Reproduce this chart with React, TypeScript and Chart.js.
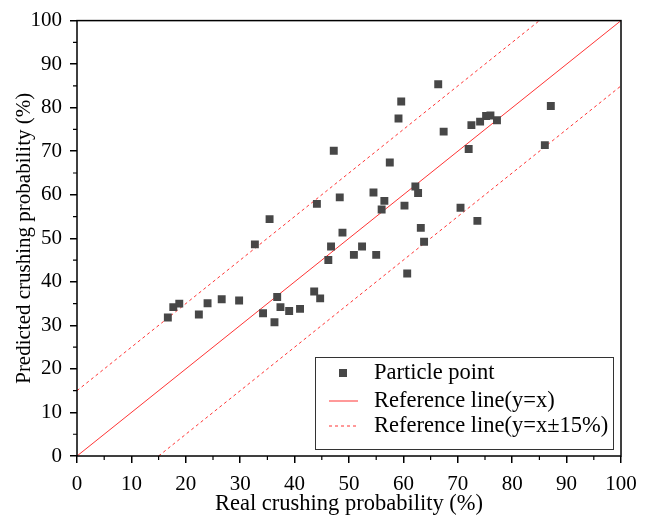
import React, { useEffect, useRef } from "react";
import { Chart, registerables } from "chart.js";

Chart.register(...registerables);

const realX: number[] = [16.7, 17.7, 18.8, 22.4, 24.0, 26.6, 29.8, 32.7, 34.2, 35.4, 36.3, 36.8, 37.4, 39.0, 41.0, 43.6, 44.7, 44.1, 46.2, 46.7, 47.2, 48.3, 48.8, 50.9, 52.4, 54.5, 55.0, 56.0, 56.5, 57.5, 59.1, 59.6, 60.2, 60.7, 62.2, 62.7, 63.2, 63.8, 66.4, 67.4, 70.5, 72.0, 72.5, 73.6, 74.1, 75.2, 76.0, 77.2, 86.0, 87.1];
const predY: number[] = [31.8, 34.2, 35.0, 32.5, 35.1, 36.0, 35.7, 48.6, 32.8, 54.4, 30.7, 36.5, 34.2, 33.3, 33.8, 37.8, 36.2, 57.9, 45.0, 48.1, 70.1, 59.4, 51.3, 46.2, 48.1, 60.5, 46.2, 56.6, 58.6, 67.4, 77.5, 81.4, 57.5, 41.9, 61.9, 60.4, 52.4, 49.2, 85.4, 74.5, 57.0, 70.5, 76.0, 54.0, 76.8, 78.1, 78.2, 77.1, 71.4, 80.4];

const refLineX: number[] = [0, 100];
const refLineY: number[] = [0, 100];
const upperX: number[] = [0, 85];
const upperY: number[] = [15, 100];
const lowerX: number[] = [15, 100];
const lowerY: number[] = [0, 85];

const legendLabels: string[] = ["Particle point", "Reference line(y=x)", "Reference line(y=x\u00b115%)"];
const xTitle = "Real crushing probability (%)";
const yTitle = "Predicted crushing probability (%)";

const FONT = "'Liberation Serif', 'Times New Roman', serif";
const POINT_COLOR = "#474747";
const RED = "rgba(255,30,30,0.9)";

const zip = (xs: number[], ys: number[]) => xs.map((x, i) => ({ x, y: ys[i] }));

const framePlugin = {
  id: "framePlugin",
  afterDraw(chart: any) {
    const { ctx, chartArea } = chart;
    const { left, right, top, bottom } = chartArea;
    const xs = chart.scales.x;
    const ys = chart.scales.y;
    ctx.save();
    ctx.strokeStyle = "#000";
    ctx.lineWidth = 1.5;
    ctx.strokeRect(left, top, right - left, bottom - top);
    ctx.lineWidth = 1.2;
    ctx.beginPath();
    for (let v = 5; v < 100; v += 10) {
      const px = xs.getPixelForValue(v);
      ctx.moveTo(px, bottom);
      ctx.lineTo(px, bottom + 4);
      const py = ys.getPixelForValue(v);
      ctx.moveTo(left, py);
      ctx.lineTo(left - 4, py);
    }
    ctx.stroke();

    // legend
    const lx = 315, ly = 357, lw = 298, lh = 92;
    ctx.lineWidth = 1;
    ctx.strokeStyle = "#333";
    ctx.fillStyle = "#fff";
    ctx.fillRect(lx, ly, lw, lh);
    ctx.strokeRect(lx + 0.5, ly + 0.5, lw, lh);
    const rows = [373, 401, 426];
    ctx.font = `22.5px ${FONT}`;
    ctx.textBaseline = "middle";
    ctx.textAlign = "left";
    ctx.fillStyle = POINT_COLOR;
    ctx.fillRect(339, rows[0] - 4, 8, 8);
    ctx.strokeStyle = RED;
    ctx.lineWidth = 1;
    ctx.beginPath();
    ctx.moveTo(329, rows[1]);
    ctx.lineTo(358, rows[1]);
    ctx.stroke();
    ctx.setLineDash([3, 3]);
    ctx.beginPath();
    ctx.moveTo(329, rows[2]);
    ctx.lineTo(358, rows[2]);
    ctx.stroke();
    ctx.setLineDash([]);
    ctx.fillStyle = "#000";
    legendLabels.forEach((t, i) => ctx.fillText(t, 374, rows[i]));
    ctx.restore();
  },
};

export default function App() {
  const ref = useRef<HTMLCanvasElement | null>(null);
  useEffect(() => {
    if (!ref.current) return;
    const chart = new Chart(ref.current, {
      type: "scatter",
      data: {
        datasets: [
          {
            label: legendLabels[0],
            data: zip(realX, predY),
            pointStyle: "rect",
            pointRadius: 5.6,
            pointBackgroundColor: POINT_COLOR,
            pointBorderColor: POINT_COLOR,
            pointBorderWidth: 0,
            showLine: false,
          },
          {
            label: legendLabels[1],
            data: zip(refLineX, refLineY),
            showLine: true,
            borderColor: RED,
            borderWidth: 1,
            pointRadius: 0,
          },
          {
            label: legendLabels[2],
            data: zip(upperX, upperY),
            showLine: true,
            borderColor: RED,
            borderWidth: 1,
            borderDash: [3, 3],
            pointRadius: 0,
          },
          {
            label: "lower",
            data: zip(lowerX, lowerY),
            showLine: true,
            borderColor: RED,
            borderWidth: 1,
            borderDash: [3, 3],
            pointRadius: 0,
          },
        ],
      },
      options: {
        responsive: false,
        animation: false,
        layout: { padding: { left: 0, top: 20, right: 27, bottom: 0 } },
        plugins: { legend: { display: false }, tooltip: { enabled: false } },
        scales: {
          x: {
            type: "linear",
            min: 0,
            max: 100,
            afterFit: (s: any) => { s.height = 62; },
            border: { display: false },
            grid: { drawOnChartArea: false, drawTicks: true, tickLength: 7, color: "#000", lineWidth: 1.5 },
            ticks: { stepSize: 10, color: "#000", font: { family: FONT, size: 21 }, padding: 9, maxRotation: 0 },
            title: { display: true, text: xTitle, color: "#000", font: { family: FONT, size: 22.5 }, padding: { top: 0, bottom: 0 } },
          },
          y: {
            type: "linear",
            min: 0,
            max: 100,
            afterFit: (s: any) => { s.width = 77; },
            border: { display: false },
            grid: { drawOnChartArea: false, drawTicks: true, tickLength: 7, color: "#000", lineWidth: 1.5 },
            ticks: { stepSize: 10, color: "#000", font: { family: FONT, size: 21 }, padding: 8 },
            title: { display: true, text: yTitle, color: "#000", font: { family: FONT, size: 21 }, padding: { top: 12, bottom: 0 } },
          },
        },
      },
      plugins: [framePlugin],
    });
    return () => chart.destroy();
  }, []);
  return (
    <div style={{ position: "fixed", left: 0, top: 0, width: 648, height: 518, background: "#fff" }}>
      <canvas ref={ref} width={648} height={518} />
    </div>
  );
}
